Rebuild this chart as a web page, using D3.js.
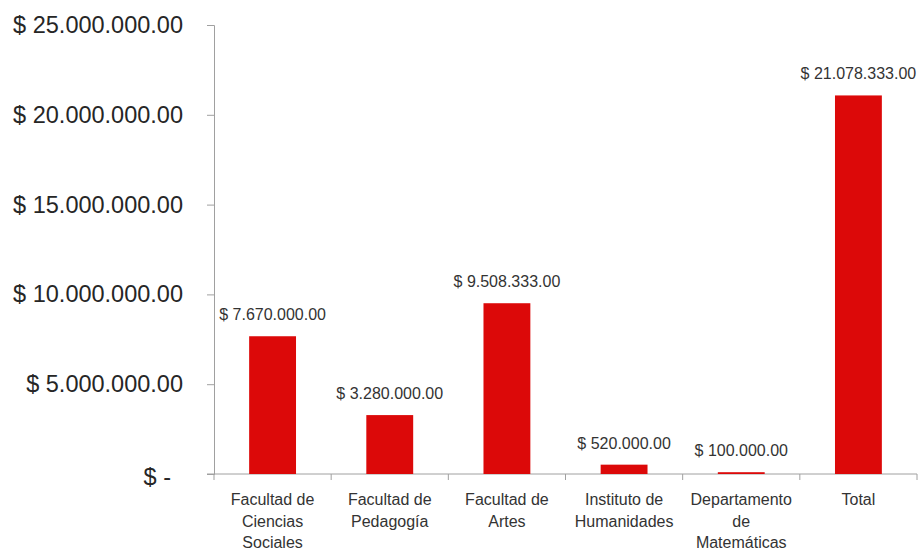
<!DOCTYPE html>
<html>
<head>
<meta charset="utf-8">
<script src="https://cdn.jsdelivr.net/npm/d3@7"></script>
<style>
  body { margin: 0; background: #fff; }
  svg { display: block; font-family: "Liberation Sans", Arial, sans-serif; }
</style>
</head>
<body>
<svg width="922" height="552"></svg>
<script>
"use strict";

// data
const categories = ["Facultad de Ciencias Sociales", "Facultad de Pedagogía", "Facultad de Artes",
                    "Instituto de Humanidades", "Departamento de Matemáticas", "Total"];
// how Excel wrapped the category names
const categoryLines = [
    ["Facultad de", "Ciencias", "Sociales"],
    ["Facultad de", "Pedagogía"],
    ["Facultad de", "Artes"],
    ["Instituto de", "Humanidades"],
    ["Departamento", "de", "Matemáticas"],
    ["Total"]
];
const values = [7670000, 3280000, 9508333, 520000, 100000, 21078333];
const yTicks = [0, 5000000, 10000000, 15000000, 20000000, 25000000];

const width = 922, height = 552,
      margin = { top: 25, right: 5, bottom: 78, left: 214 },
      barColor = "#dc0909",
      axisColor = "#a0a0a0",
      textColor = "#333";

let chart = d3.select("body svg");

// number format like 7.670.000.00
let num = d3.format(",.2f");
let money = v => v === 0 ? "$ -" : "$ " + num(v).replace(/,/g, ".");

let scaleX = d3.scaleBand()
    .domain(categories)
    .range([margin.left, width - margin.right])
    .paddingInner(0.6)
    .paddingOuter(0.3);

let scaleY = d3.scaleLinear()
    .domain([0, 25000000])
    .range([height - margin.bottom, margin.top]);

// y axis
let yAxis = chart.append("g")
    .attr("class", "y_axis")
    .attr("transform", `translate(${margin.left}, 0)`)
    .call(d3.axisLeft(scaleY).tickValues(yTicks).tickSize(7).tickPadding(24).tickFormat(money));

yAxis.select(".domain").attr("stroke", axisColor);
yAxis.selectAll(".tick line").attr("stroke", axisColor);
yAxis.selectAll(".tick text")
    .attr("font-size", 23.5)
    .attr("fill", "#262626")
    .attr("font-family", "Liberation Sans, Arial, sans-serif");
// "$ -" sits a bit further left in the original
yAxis.selectAll(".tick text").filter(d => d === 0).attr("dx", -12).attr("dy", "0.45em");

// x axis: ticks between the bands, like Excel
let xAxisG = chart.append("g")
    .attr("class", "x_axis")
    .attr("transform", `translate(0, ${scaleY(0)})`);

xAxisG.append("line")
    .attr("x1", margin.left - 7)
    .attr("x2", width - margin.right)
    .attr("stroke", axisColor);

let tickStep = (width - margin.right - margin.left) / categories.length;
xAxisG.selectAll("line.tick")
    .data(d3.range(categories.length + 1))
    .enter()
    .append("line")
    .attr("class", "tick")
    .attr("x1", i => margin.left + i * tickStep)
    .attr("x2", i => margin.left + i * tickStep)
    .attr("y1", 0)
    .attr("y2", 6)
    .attr("stroke", axisColor);

// category labels
xAxisG.selectAll("text")
    .data(categories)
    .enter()
    .append("text")
    .attr("text-anchor", "middle")
    .attr("font-size", 16)
    .attr("fill", textColor)
    .each(function(d, i) {
        let cx = scaleX(d) + scaleX.bandwidth() / 2;
        d3.select(this)
        .selectAll("tspan")
        .data(categoryLines[i])
        .enter()
        .append("tspan")
        .attr("x", cx)
        .attr("y", (_, j) => 31 + j * 21.5)
        .text(t => t);
    });

// bars
chart.append("g")
    .attr("class", "bars")
    .selectAll("rect")
    .data(values)
    .enter()
    .append("rect")
    .attr("x", (d, i) => scaleX(categories[i]))
    .attr("y", d => scaleY(d))
    .attr("width", scaleX.bandwidth())
    .attr("height", d => scaleY(0) - scaleY(d))
    .attr("fill", barColor);

// data labels
chart.append("g")
    .attr("class", "labels")
    .selectAll("text")
    .data(values)
    .enter()
    .append("text")
    .attr("x", (d, i) => scaleX(categories[i]) + scaleX.bandwidth() / 2)
    .attr("y", d => scaleY(d) - 16)
    .attr("text-anchor", "middle")
    .attr("font-size", 16)
    .attr("fill", textColor)
    .text(d => money(d));
</script>
</body>
</html>
